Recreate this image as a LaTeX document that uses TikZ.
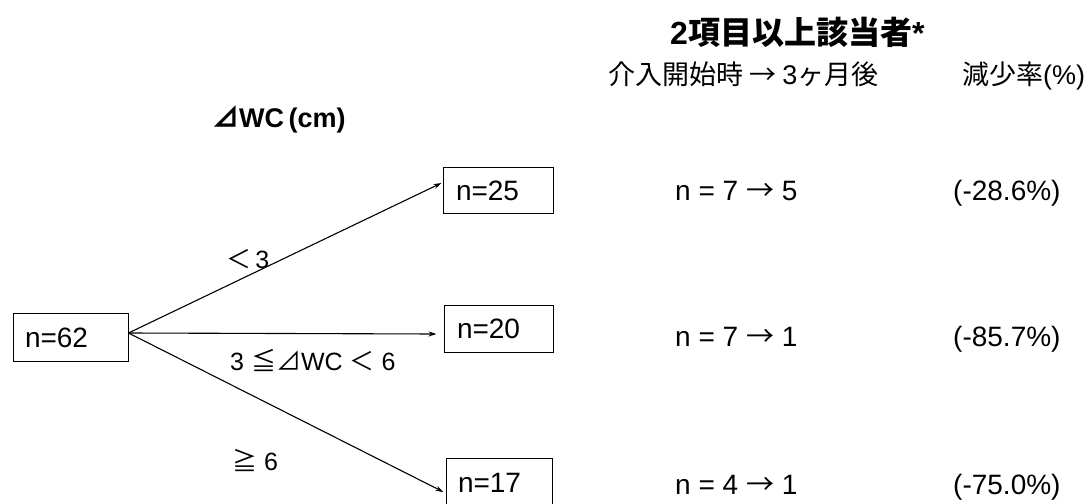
\documentclass[tikz,border=0pt]{standalone}
\usepackage{fontspec}
\setmainfont{Liberation Sans}
\newfontfamily\jp{Noto Sans CJK JP}
\usetikzlibrary{arrows.meta,calc}
\tikzset{
  box/.style={draw, line width=1pt, inner xsep=12pt, align=left,
    text height=20pt, text depth=0pt, font=\fontsize{28}{31}\selectfont},
  conn/.style={line width=1.1pt, -{Stealth[length=8pt,width=5pt]}},
  txt/.style={anchor=base west, inner sep=0pt, font=\fontsize{28}{31}\selectfont},
  lbl/.style={anchor=base west, inner sep=0pt, font=\fontsize{25}{28}\selectfont},
}
\begin{document}
\begin{tikzpicture}[x=1pt,y=-1pt]
\useasboundingbox (0,0) rectangle (1091,503);
\clip (0,0) rectangle (1091,503);
% boxes
\node[box, minimum width=115pt, minimum height=48pt, text width=91pt] (n62) at (70.5,337) {n=62};
\node[box, minimum width=108pt, minimum height=46pt, text width=84pt, inner xsep=13pt] (n25) at (498,190) {n=25};
\node[box, minimum width=107pt, minimum height=47pt, text width=83pt, inner xsep=13pt] (n20) at (498.5,328.5) {n=20};
\node[box, minimum width=106pt, minimum height=48pt, text width=82pt, inner xsep=12pt] (n17) at (499,482) {n=17};
% connectors
\coordinate (src) at ($(n62.east)+(0,-4)$);
\draw[conn] (src) -- ($(n25.west)+(-1,-7)$);
\draw[conn] (src) -- ($(n20.west)+(-7,5.5)$);
\draw[conn] (src) -- ($(n17.west)+(-2,10)$);
% edge labels
\node[lbl] (l1) at (226,268) {{\jp ＜}\,3};
\node[lbl] (l2) at (230,370) {3 {\jp ≦⊿}WC {\jp ＜} 6};
\node[lbl] (l3) at (232,470) {{\jp ≧} 6};
% headings
\node[txt, font=\fontsize{32}{36}\selectfont\bfseries] (title) at (670,45) {2{\jp\bfseries 項目以上該当者}*};
\node[txt, font=\fontsize{27}{30}\selectfont] (h1) at (608,84) {{\jp 介入開始時 → }3{\jp ヶ月後}};
\node[txt, font=\fontsize{27}{30}\selectfont] (h2) at (962,84) {{\jp 減少率}(\%)};
\node[txt, font=\fontsize{27}{30}\selectfont\bfseries] (wc) at (212,127) {{\jp\bfseries ⊿}WC\,(cm)};
% rows
\node[txt] (r1a) at (675,200) {n = 7 {\jp →} 5};
\node[txt] (r1b) at (953,200) {(-28.6\%)};
\node[txt] (r2a) at (675,346) {n = 7 {\jp →} 1};
\node[txt] (r2b) at (953,346) {(-85.7\%)};
\node[txt] (r3a) at (675,494) {n = 4 {\jp →} 1};
\node[txt] (r3b) at (953,494) {(-75.0\%)};
\end{tikzpicture}
\end{document}
